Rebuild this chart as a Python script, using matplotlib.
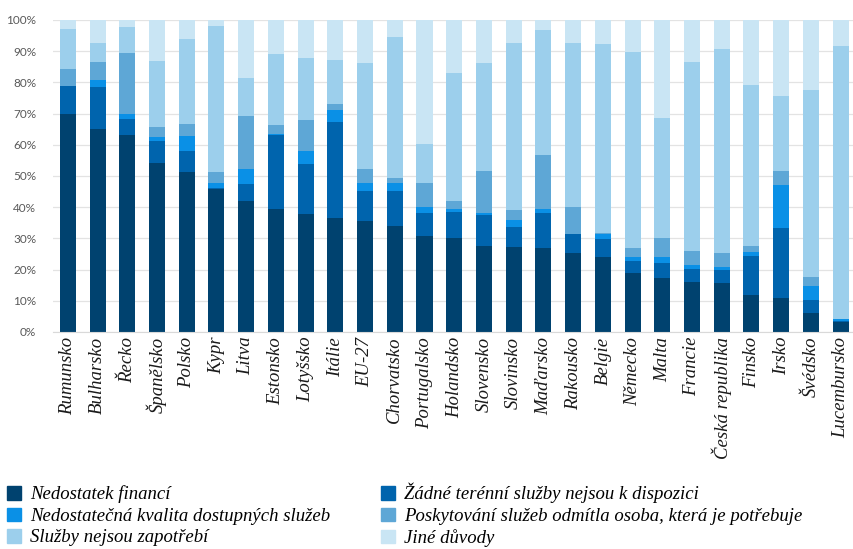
import numpy as np
import matplotlib.pyplot as plt
from matplotlib.patches import Patch

countries = ["Rumunsko", "Bulharsko", "Řecko", "Španělsko", "Polsko", "Kypr", "Litva",
             "Estonsko", "Lotyšsko", "Itálie", "EU-27", "Chorvatsko", "Portugalsko",
             "Holandsko", "Slovensko", "Slovinsko", "Maďarsko", "Rakousko", "Belgie",
             "Německo", "Malta", "Francie", "Česká republika", "Finsko", "Irsko",
             "Švédsko", "Lucembursko"]

# shares in %
financi   = [70.0, 65.0, 63.3, 54.1, 51.3, 45.7, 42.1, 39.4, 37.7, 36.6, 35.6, 34.1, 30.8,
             30.1, 27.7, 27.2, 26.8, 25.2, 24.1, 18.8, 17.2, 16.1, 15.7, 11.8, 11.0, 6.0, 3.3]
terenni   = [9.0, 13.4, 4.9, 7.0, 6.6, 0.5, 5.3, 23.8, 16.2, 30.6, 9.7, 11.2, 7.4,
             8.5, 9.8, 6.6, 11.4, 6.1, 5.7, 4.0, 4.8, 4.0, 4.2, 12.6, 22.2, 4.3, 0.3]
kvalita   = [0.0, 2.4, 1.8, 1.5, 5.0, 1.6, 4.7, 0.4, 4.1, 4.0, 2.3, 2.6, 1.9,
             0.7, 0.5, 2.1, 1.1, 0.0, 1.5, 1.3, 2.1, 1.4, 0.8, 1.3, 13.9, 4.5, 0.6]
odmitla   = [5.3, 5.6, 19.3, 3.2, 3.9, 3.5, 17.1, 2.9, 9.9, 1.9, 4.8, 1.6, 7.7,
             2.7, 13.6, 3.1, 17.5, 8.9, 0.4, 2.7, 6.0, 4.4, 4.5, 2.0, 4.6, 2.9, 0.0]
nepotreba = [12.8, 6.3, 8.6, 21.1, 27.2, 46.8, 12.1, 22.5, 19.8, 14.2, 33.9, 45.2, 12.5,
             40.9, 34.7, 53.7, 40.0, 52.5, 60.6, 62.8, 38.4, 60.5, 65.6, 51.5, 24.0, 59.9, 87.5]
jine      = [2.9, 7.3, 2.1, 13.1, 6.0, 1.9, 18.7, 11.0, 12.3, 12.7, 13.7, 5.3, 39.7,
             17.1, 13.7, 7.3, 3.2, 7.3, 7.7, 10.4, 31.5, 13.6, 9.2, 20.8, 24.3, 22.4, 8.3]

series = [
    ("Nedostatek financí", financi, "#00426f"),
    ("Žádné terénní služby nejsou k dispozici", terenni, "#0064ad"),
    ("Nedostatečná kvalita dostupných služeb", kvalita, "#0a90e6"),
    ("Poskytování služeb odmítla osoba, která je potřebuje", odmitla, "#5ea7d6"),
    ("Služby nejsou zapotřebí", nepotreba, "#9ccfec"),
    ("Jiné důvody", jine, "#c9e5f4"),
]

fig = plt.figure(figsize=(8.54, 5.49), dpi=100)
ax = fig.add_axes([53/854, 1 - 332/549, 1 - 53/854, 312/549])

x = np.arange(len(countries))
total = np.sum([s[1] for s in series], axis=0)
bottom = np.zeros(len(countries))
handles = {}
for name, vals, col in series:
    v = np.array(vals) / total
    ax.bar(x, v, 0.54, bottom=bottom, color=col, zorder=2)
    bottom += v
    handles[name] = Patch(color=col)

ax.set_ylim(0, 1)
ax.set_xlim(-0.5, 26.45)
ax.set_yticks(np.arange(0, 1.01, 0.1))
ax.set_yticklabels([f"{int(round(t*100))}%" for t in np.arange(0, 1.01, 0.1)],
                   fontsize=8.5, color="#595959", family="Lato")
ax.grid(axis="y", color="#e3e3e3", linewidth=0.9, zorder=0)
for s in ["top", "right", "left"]:
    ax.spines[s].set_visible(False)
ax.spines["bottom"].set_color("#d9d9d9")
ax.tick_params(axis="both", length=0)
ax.tick_params(axis="y", pad=12)
ax.set_xticks(x)
ax.set_xticklabels(countries, rotation=90, fontsize=13.5, family="Liberation Serif",
                   style="italic", color="#1a1a1a")

order = ["Nedostatek financí", "Nedostatečná kvalita dostupných služeb", "Služby nejsou zapotřebí",
         "Žádné terénní služby nejsou k dispozici",
         "Poskytování služeb odmítla osoba, která je potřebuje", "Jiné důvody"]
fig.legend([handles[n] for n in order], order, loc="upper left", bbox_to_anchor=(-0.001, 0.134),
           ncol=2, frameon=False, borderaxespad=0, handlelength=0.75, handleheight=0.75,
           handletextpad=0.5, columnspacing=2.7, labelspacing=0.22,
           prop={"family": "Liberation Serif", "style": "italic", "size": 13.5})

fig.savefig("out.png", dpi=100)
